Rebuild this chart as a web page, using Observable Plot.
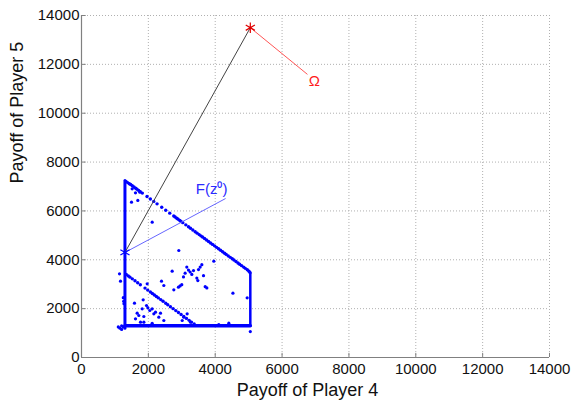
<!DOCTYPE html>
<html>
<head>
<meta charset="utf-8">
<script src="https://cdn.jsdelivr.net/npm/d3@7"></script>
<script src="https://cdn.jsdelivr.net/npm/@observablehq/plot@0.6"></script>
<style>
  body { margin: 0; background: #fff; }
  svg { font-family: "Liberation Sans", Arial, sans-serif; }
</style>
</head>
<body>
<div id="chart"></div>
<script>
// Axis ticks (both axes share the same range)
const ticks = [0, 2000, 4000, 6000, 8000, 10000, 12000, 14000];

// Solid edges of the feasible payoff region (Player 4, Player 5)
const leftEdge = [[1300, 1200], [1300, 7250]];
const bottomEdge = [[1300, 1300], [5050, 1300]];
const rightEdge = [[5050, 1300], [5050, 3450]];

// Dotted upper boundary of the region
const upperDiagonal = [
  [1330, 7210], [1380, 7160], [1430, 7110], [1470, 7080], [1520, 7030], [1570, 6980],
  [1620, 6930], [1660, 6890], [1710, 6840], [1760, 6790], [1820, 6730], [1960, 6590],
  [2060, 6490], [2160, 6390], [2260, 6290], [2400, 6150], [2520, 6030], [2640, 5910],
  [2760, 5790], [2800, 5750], [2850, 5700], [2890, 5660], [2940, 5610], [2980, 5570],
  [3030, 5520], [3120, 5430], [3200, 5350], [3260, 5290], [3330, 5220], [3400, 5150],
  [3460, 5090], [3520, 5030], [3570, 4980], [3620, 4930], [3680, 4870], [3740, 4810],
  [3800, 4750], [3860, 4690], [3920, 4630], [3980, 4570], [4040, 4510], [4100, 4450],
  [4160, 4390], [4220, 4330], [4280, 4270], [4330, 4220], [4390, 4160], [4450, 4100],
  [4510, 4040], [4560, 3990], [4620, 3930], [4680, 3870], [4730, 3820], [4790, 3760],
  [4850, 3700], [4900, 3650], [4960, 3590], [5010, 3530], [5040, 3480]
];

// Dotted inner diagonal
const lowerDiagonal = [
  [1340, 3400], [1400, 3340], [1450, 3290], [1520, 3220], [1600, 3140], [1680, 3060],
  [1760, 2980], [1900, 2840], [1980, 2760], [2060, 2680], [2120, 2620], [2180, 2560],
  [2240, 2500], [2300, 2440], [2370, 2370], [2440, 2300], [2520, 2220], [2580, 2160],
  [2660, 2080], [2740, 2000], [2820, 1920], [2900, 1840], [2980, 1760], [3060, 1680],
  [3140, 1600], [3220, 1520], [3290, 1450], [3370, 1370]
];

// Scattered interior payoffs
const scatter = [
  [1516, 6906], [1615, 6742], [1745, 6769], [1685, 6428], [1496, 6360], [2115, 5540],
  [2911, 4381], [3958, 3944], [4530, 2634], [4956, 2443],
  [1137, 3426], [1167, 3125], [1260, 2300], [1250, 2450], [1270, 2200],
  [1965, 3016], [2393, 3125], [2463, 2948], [2712, 3535], [2762, 2770],
  [2900, 2880], [2950, 2930], [3000, 2980], [3050, 3300], [3100, 3450], [3150, 3700],
  [3200, 3580], [3250, 3500], [3300, 3400], [3350, 3560], [3450, 3250], [3480, 3150],
  [3500, 3600], [3550, 3700], [3600, 3800], [3650, 3350], [3700, 2900], [3750, 2850],
  [1585, 2224], [1845, 2361], [1815, 1992], [1665, 1815], [1715, 1719], [1615, 1583],
  [1765, 1447], [1865, 1679], [1945, 2129], [1985, 2033], [2044, 1924], [2114, 1992],
  [2164, 1788], [2214, 1856], [2313, 1651], [2363, 1815], [2463, 1515], [1865, 1447],
  [2114, 1400], [3161, 1788], [3062, 1651], [3012, 1515], [3261, 1447],
  [4107, 1350], [4407, 1404], [5050, 1060],
  [1150, 1200], [1200, 1150], [1250, 1250], [1100, 1250], [1200, 1300]
];

// Marked payoff vectors and their annotation leaders
const startPoint = [[1300, 4300]];
const omegaPoint = [[5050, 13500]];
const pathLine = [[1300, 4300], [5050, 13500]];
const omegaLeader = [[5050, 13500], [6750, 11600]];
const startLeader = [[1300, 4300], [4300, 6500]];
const labels = [
  {x: 3420, y: 6900, text: "F(z⁰)", color: "#2b2bff"},
  {x: 6800, y: 11300, text: "Ω", color: "#ff1a1a"}
];

const fmt = d3.format("d");

const chart = Plot.plot({
  width: 573,
  height: 402,
  marginLeft: 81,
  marginRight: 24,
  marginTop: 15,
  marginBottom: 45,
  style: {fontFamily: "'Liberation Sans', Arial, sans-serif", background: "#fff"},
  x: {domain: [0, 14000], label: null},
  y: {domain: [0, 14000], label: null},
  marks: [
    // dotted grid
    Plot.ruleX(ticks.slice(1), {stroke: "#b0b0b0", strokeDasharray: "1,2", strokeWidth: 1}),
    Plot.ruleY(ticks.slice(1), {stroke: "#b0b0b0", strokeDasharray: "1,2", strokeWidth: 1}),
    // axis lines and inward ticks
    Plot.ruleX([0], {stroke: "#808080", strokeWidth: 1.2}),
    Plot.ruleY([0], {stroke: "#808080", strokeWidth: 1.2}),
    Plot.ruleX(ticks, {y1: 0, y2: 170, stroke: "#808080"}),
    Plot.ruleY(ticks, {x1: 0, x2: 140, stroke: "#808080"}),
    Plot.axisX(ticks, {tickSize: 0, tickPadding: 6, fontSize: 15, tickFormat: fmt, fill: "#111", label: null}),
    Plot.axisY(ticks, {tickSize: 0, tickPadding: 2, fontSize: 15, tickFormat: fmt, fill: "#111", label: null}),
    Plot.text(["Payoff of Player 4"], {frameAnchor: "bottom", dx: -8, dy: 38, fontSize: 18, fill: "#111"}),
    Plot.text(["Payoff of Player 5"], {frameAnchor: "left", dx: -64, dy: -3, rotate: -90, fontSize: 18, fill: "#111"}),
    // region edges
    Plot.line(leftEdge, {x: d => d[0], y: d => d[1], stroke: "#0000ff", strokeWidth: 3}),
    Plot.line(bottomEdge, {x: d => d[0], y: d => d[1], stroke: "#0000ff", strokeWidth: 3.5}),
    Plot.line(rightEdge, {x: d => d[0], y: d => d[1], stroke: "#0000ff", strokeWidth: 2.5}),
    Plot.dot(upperDiagonal, {x: d => d[0], y: d => d[1], r: 1.7, fill: "#0000ff"}),
    Plot.dot(lowerDiagonal, {x: d => d[0], y: d => d[1], r: 1.7, fill: "#0000ff"}),
    Plot.dot(scatter, {x: d => d[0], y: d => d[1], r: 1.6, fill: "#0000ff"}),
    // leaders
    Plot.line(pathLine, {x: d => d[0], y: d => d[1], stroke: "#444", strokeWidth: 1}),
    Plot.line(omegaLeader, {x: d => d[0], y: d => d[1], stroke: "#ff5555", strokeWidth: 1}),
    Plot.line(startLeader, {x: d => d[0], y: d => d[1], stroke: "#6666ff", strokeWidth: 1}),
    // marked points
    Plot.dot(startPoint, {x: d => d[0], y: d => d[1], symbol: "asterisk", r: 5, stroke: "#0000ff", strokeWidth: 1.2}),
    Plot.dot(omegaPoint, {x: d => d[0], y: d => d[1], symbol: "asterisk", r: 5, stroke: "#e00000", strokeWidth: 1.2}),
    Plot.text(labels, {x: "x", y: "y", text: "text", fill: d => d.color, fontSize: 15, textAnchor: "start"})
  ]
});

document.getElementById("chart").appendChild(chart);
</script>
</body>
</html>
